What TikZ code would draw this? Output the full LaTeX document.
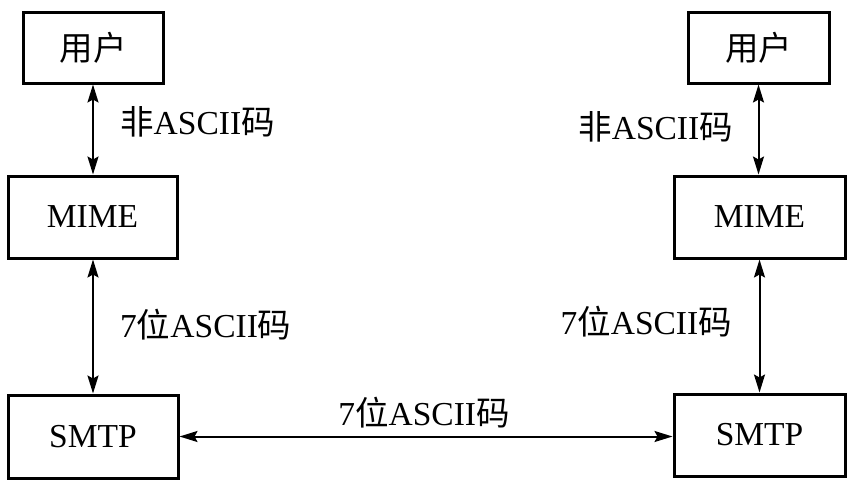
\documentclass[tikz,border=0pt]{standalone}
\usepackage{fontspec}
\setmainfont{Liberation Serif}
\newfontfamily\cjk{Noto Sans CJK SC}
\usetikzlibrary{arrows.meta}

\tikzset{
  layerbox/.style={draw, line width=3pt, inner sep=0pt, font=\fontsize{33.5}{38}\selectfont},
  codelabel/.style={inner sep=0pt, font=\fontsize{33.5}{38}\selectfont},
  duplex/.style={line width=2pt, {Stealth[length=18pt,width=11pt,inset=3pt]}-{Stealth[length=18pt,width=11pt,inset=3pt]}}
}

\begin{document}
\begin{tikzpicture}[x=1pt,y=1pt,yscale=-1]
\useasboundingbox (0,0) rectangle (851,485);

%Left side
\node [layerbox, minimum width=140pt, minimum height=71pt] (userL) at (93,47.5) {{\cjk 用户}};
\node [layerbox, minimum width=169pt, minimum height=82pt] (mimeL) at (92.5,217) {MIME};
\node [layerbox, minimum width=170pt, minimum height=83pt] (smtpL) at (93,436.5) {SMTP};

%Right side
\node [layerbox, minimum width=141pt, minimum height=71pt] (userR) at (758.5,47.5) {{\cjk 用户}};
\node [layerbox, minimum width=171pt, minimum height=82pt] (mimeR) at (759.5,217) {MIME};
\node [layerbox, minimum width=171pt, minimum height=82pt] (smtpR) at (759.5,435) {SMTP};

%Connectors
\draw [duplex] (userL.south) -- (userL.south |- mimeL.north);
\draw [duplex] (mimeL.south -| userL.south) -- (smtpL.north -| userL.south);
\draw [duplex] (userR.south) -- (userR.south |- mimeR.north);
\draw [duplex] (mimeR.south) -- (smtpR.north);
\draw [duplex] (smtpL.east) -- (smtpL.east -| smtpR.west);

%Labels
\node [codelabel, anchor=west] (nonasciiL) at (120,122) {{\cjk 非}ASCII{\cjk 码}};
\node [codelabel, anchor=east] (nonasciiR) at (733,127) {{\cjk 非}ASCII{\cjk 码}};
\node [codelabel, anchor=west] (asciiL) at (120,325) {7{\cjk 位}ASCII{\cjk 码}};
\node [codelabel, anchor=east] (asciiR) at (732,322) {7{\cjk 位}ASCII{\cjk 码}};
\node [codelabel] (asciiM) at (424,413) {7{\cjk 位}ASCII{\cjk 码}};

\end{tikzpicture}
\end{document}
